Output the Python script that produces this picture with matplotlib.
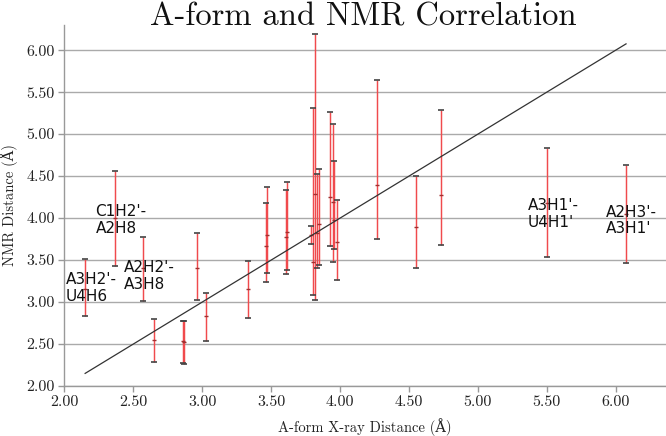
import matplotlib
matplotlib.use("Agg")
import matplotlib.pyplot as plt
import numpy as np

# A-form X-ray distance (x), NMR distance (center, lower, upper)
xray = [2.15, 2.37, 2.57, 2.65, 2.86, 2.87, 2.96, 3.03, 3.33, 3.46, 3.47,
        3.61, 3.615, 3.79, 3.80, 3.82, 3.835, 3.85, 3.93, 3.95, 3.955, 3.98,
        4.265, 4.55, 4.735, 5.50, 6.075]
nmr_mid = [3.16, 4.00, 3.40, 2.55, 2.53, 2.52, 3.41, 2.83, 3.15, 3.67, 3.80,
           3.78, 3.84, 3.80, 3.48, 4.29, 3.82, 3.93, 4.25, 4.19, 3.98, 3.71,
           4.39, 3.89, 4.28, 4.18, 4.05]
nmr_low = [2.83, 3.43, 3.01, 2.29, 2.27, 2.26, 3.03, 2.53, 2.81, 3.24, 3.34,
           3.33, 3.38, 3.69, 3.08, 3.02, 3.40, 3.44, 3.67, 3.48, 3.63, 3.26,
           3.75, 3.40, 3.68, 3.54, 3.46]
nmr_high = [3.51, 4.56, 3.78, 2.80, 2.77, 2.78, 3.82, 3.11, 3.49, 4.18, 4.37,
            4.33, 4.43, 3.91, 5.31, 6.19, 4.52, 4.59, 5.26, 5.12, 4.68, 4.22,
            5.64, 4.50, 5.29, 4.83, 4.63]

labels = ["A3H2'-\nU4H6", "C1H2'-\nA2H8", "A2H2'-\nA3H8", "A3H1'-\nU4H1'", "A2H3'-\nA3H1'"]
label_x = [2.01, 2.225, 2.43, 5.36, 5.93]
label_y = [3.17, 3.98, 3.31, 4.05, 3.97]

yticks = [2.0, 2.5, 3.0, 3.5, 4.0, 4.5, 5.0, 5.5, 6.0]
xticks = [2.0, 2.5, 3.0, 3.5, 4.0, 4.5, 5.0, 5.5, 6.0]

serif = ['cmr10', 'DejaVu Serif']
plt.rcParams['axes.unicode_minus'] = False
plt.rcParams['axes.formatter.use_mathtext'] = False

fig = plt.figure(figsize=(6.66, 4.36), dpi=100)
ax = fig.add_axes([0.0968, 0.1147, 0.9032, 0.828])

x = np.array(xray)
mid = np.array(nmr_mid)
lo = np.array(nmr_low)
hi = np.array(nmr_high)

ax.errorbar(x, mid, yerr=[mid - lo, hi - mid], fmt='none', ecolor='#f04a4d',
            elinewidth=1.05, capsize=0, zorder=3)
ax.plot(x, hi, linestyle='none', marker='_', markersize=5, mew=1.2, color='#444444', zorder=4)
ax.plot(x, lo, linestyle='none', marker='_', markersize=5, mew=1.2, color='#444444', zorder=4)
ax.plot(x, mid, linestyle='none', marker='_', markersize=3, mew=1.0, color='#a03030', zorder=4)

xl = [x.min(), x.max()]
ax.plot(xl, xl, color='#333333', linewidth=0.9, zorder=5)

for t, lx, ly in zip(labels, label_x, label_y):
    ax.text(lx, ly, t, fontsize=11, family='DejaVu Sans', ha='left', va='center',
            linespacing=1.15, color='#111111', zorder=6)

ax.set_xlim(2.0, 6.365)
ax.set_ylim(2.0, 6.30)
ax.set_xticks(xticks)
ax.set_yticks(yticks)
ax.set_xticklabels([f"{v:.2f}" for v in xticks], family=serif, fontsize=11.5)
ax.set_yticklabels([f"{v:.2f}" for v in yticks], family=serif, fontsize=11.5)
ax.grid(axis='y', color='#aaaaaa', linewidth=1.0, zorder=0)
ax.set_axisbelow(True)
for s in ['top', 'right']:
    ax.spines[s].set_visible(False)
for s in ['left', 'bottom']:
    ax.spines[s].set_color('#999999')
    ax.spines[s].set_linewidth(1.0)
ax.tick_params(axis='both', colors='#999999', labelcolor='#222222', length=4, width=1.0, pad=3)

ax.set_xlabel("A-form X-ray Distance (Å)", family=serif, fontsize=10.5, color='#222222', labelpad=6)
ax.set_ylabel("NMR Distance (Å)", family=serif, fontsize=10.5, color='#222222', labelpad=6)
fig.text(0.545, 0.962, "A-form and NMR Correlation", family=serif, fontsize=23.5,
         ha='center', va='center', color='#111111')

fig.savefig("out.png", dpi=100)
